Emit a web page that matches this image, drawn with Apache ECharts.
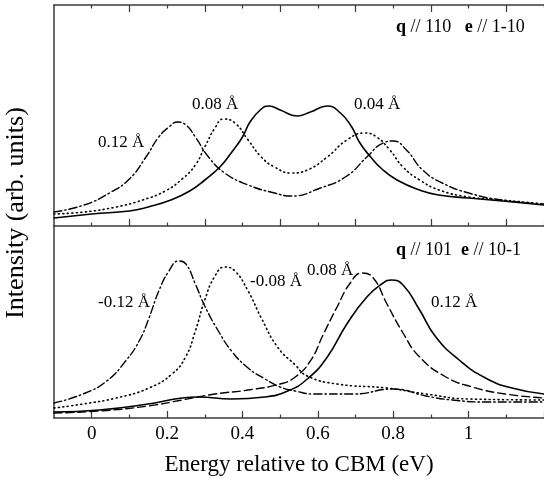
<!DOCTYPE html>
<html><head><meta charset="utf-8">
<script src="https://cdn.jsdelivr.net/npm/echarts@6/dist/echarts.min.js"></script>
<style>html,body{margin:0;padding:0;background:#fff}#c{width:544px;height:479px}</style>
</head><body><div id="c"></div>
<script>
// ---------- data (x: energy in eV, y: intensity in arb. units) ----------
// Top panel: q // 110, e // 1-10
const topSolidX = [-0.10, 0.00, 0.10, 0.15, 0.21, 0.26, 0.30, 0.34, 0.37, 0.40, 0.42, 0.45, 0.47, 0.50, 0.545, 0.58, 0.625, 0.66, 0.69, 0.71, 0.74, 0.77, 0.81, 0.87, 0.92, 1.00, 1.09, 1.20];
const topSolidY = [0.08, 0.12, 0.15, 0.19, 0.26, 0.35, 0.46, 0.59, 0.73, 0.89, 1.04, 1.17, 1.20, 1.16, 1.10, 1.14, 1.20, 1.13, 0.99, 0.84, 0.69, 0.57, 0.46, 0.36, 0.31, 0.28, 0.25, 0.21];
const topDotX = [-0.10, -0.02, 0.065, 0.135, 0.195, 0.24, 0.275, 0.30, 0.327, 0.35, 0.38, 0.415, 0.45, 0.485, 0.53, 0.572, 0.625, 0.677, 0.725, 0.756, 0.791, 0.826, 0.87, 0.922, 1.00, 1.088, 1.20];
const topDotY = [0.12, 0.14, 0.19, 0.26, 0.35, 0.47, 0.61, 0.79, 0.98, 1.07, 1.03, 0.86, 0.69, 0.59, 0.53, 0.56, 0.69, 0.86, 0.93, 0.89, 0.76, 0.59, 0.46, 0.36, 0.29, 0.26, 0.22];
const topDashDotX = [-0.10, -0.02, 0.047, 0.10, 0.144, 0.178, 0.205, 0.228, 0.25, 0.275, 0.31, 0.353, 0.415, 0.485, 0.53, 0.607, 0.677, 0.73, 0.773, 0.80, 0.835, 0.878, 0.93, 1.00, 1.088, 1.20];
const topDashDotY = [0.14, 0.21, 0.33, 0.47, 0.69, 0.89, 0.99, 1.04, 1.01, 0.89, 0.69, 0.53, 0.41, 0.33, 0.30, 0.38, 0.50, 0.69, 0.83, 0.85, 0.76, 0.56, 0.43, 0.33, 0.26, 0.22];

// Bottom panel: q // 101, e // 10-1
const botDashDotX = [-0.10, -0.023, 0.04, 0.09, 0.126, 0.152, 0.178, 0.205, 0.231, 0.25, 0.275, 0.30, 0.336, 0.371, 0.415, 0.46, 0.50, 0.54, 0.59, 0.695, 0.80, 0.887, 0.957, 1.045, 1.20];
const botDashDotY = [0.15, 0.24, 0.37, 0.57, 0.77, 1.00, 1.27, 1.47, 1.57, 1.54, 1.34, 1.12, 0.87, 0.67, 0.50, 0.39, 0.31, 0.27, 0.24, 0.24, 0.29, 0.22, 0.18, 0.16, 0.16];
const botDotX = [-0.10, -0.023, 0.065, 0.152, 0.213, 0.249, 0.275, 0.30, 0.327, 0.353, 0.38, 0.415, 0.45, 0.493, 0.54, 0.572, 0.651, 0.782, 0.887, 1.00, 1.20];
const botDotY = [0.10, 0.14, 0.20, 0.30, 0.44, 0.61, 0.87, 1.18, 1.42, 1.51, 1.47, 1.27, 1.00, 0.71, 0.53, 0.42, 0.34, 0.30, 0.24, 0.19, 0.18];
const botDashX = [-0.10, 0.02, 0.15, 0.24, 0.327, 0.415, 0.50, 0.54, 0.58, 0.615, 0.651, 0.686, 0.717, 0.747, 0.782, 0.826, 0.87, 0.94, 1.01, 1.097, 1.20];
const botDashY = [0.05, 0.07, 0.12, 0.18, 0.24, 0.28, 0.34, 0.41, 0.57, 0.84, 1.11, 1.35, 1.45, 1.40, 1.15, 0.85, 0.61, 0.41, 0.31, 0.24, 0.20];
const botSolidX = [-0.10, 0.02, 0.15, 0.24, 0.283, 0.371, 0.459, 0.52, 0.572, 0.625, 0.677, 0.73, 0.773, 0.795, 0.826, 0.87, 0.913, 0.975, 1.045, 1.115, 1.20];
const botSolidY = [0.06, 0.08, 0.14, 0.20, 0.21, 0.19, 0.21, 0.27, 0.39, 0.61, 0.94, 1.21, 1.35, 1.38, 1.33, 1.08, 0.81, 0.58, 0.40, 0.30, 0.24];

// ticks
const topMajorTicks = [0.1, 0.3, 0.5, 0.7, 0.9, 1.1];
const topMinorTicks = [0, 0.2, 0.4, 0.6, 0.8, 1.0, 1.2];
const botMajorTicks = [0, 0.2, 0.4, 0.6, 0.8, 1.0, 1.2];
const botMinorTicks = [0.1, 0.3, 0.5, 0.7, 0.9, 1.1];
const xTickLabels = [0, 0.2, 0.4, 0.6, 0.8, 1];

// ---------- chart ----------
const FONT = '"Liberation Serif", "Times New Roman", serif';
const AX = '#3a3a3a';
const zip = (xs, ys) => xs.map((x, i) => [x, ys[i]]);

function xAxis(grid, pos, ticks, len, showLine, extra) {
  return Object.assign({
    type: 'value', gridIndex: grid, position: pos, min: -0.1, max: 1.2,
    axisLine: { show: showLine, onZero: false, lineStyle: { color: AX, width: 1.5 } },
    axisTick: { show: true, inside: true, length: len, customValues: ticks, lineStyle: { color: AX, width: 1.2 } },
    axisLabel: { show: false },
    splitLine: { show: false }
  }, extra || {});
}
function yAxis(grid, max) {
  return {
    type: 'value', gridIndex: grid, min: 0, max: max, position: 'left',
    axisLine: { show: true, onZero: false, lineStyle: { color: AX, width: 1.5 } },
    axisTick: { show: false }, axisLabel: { show: false }, splitLine: { show: false }
  };
}
function line(name, xi, yi, data, type, w) {
  return {
    name: name, type: 'line', xAxisIndex: xi, yAxisIndex: yi, data: data,
    showSymbol: false, symbol: 'none', smooth: 0.5, silent: true,
    lineStyle: { color: '#000', width: w || 1.5, type: type, cap: 'round' }
  };
}
const DOT = [1, 3.5], DASHDOT = [8, 3, 1.5, 3], DASH = [8, 4];

const option = {
  animation: false,
  backgroundColor: '#fff',
  grid: [
    { left: 54, top: 5, width: 495, height: 221 },
    { left: 54, top: 226, width: 495, height: 192 }
  ],
  xAxis: [
    xAxis(0, 'bottom', topMajorTicks, 7, true),
    xAxis(0, 'bottom', topMinorTicks, 3.5, false),
    xAxis(0, 'top', topMajorTicks, 7, true),
    xAxis(0, 'top', topMinorTicks, 3.5, false),
    xAxis(1, 'bottom', botMajorTicks, 7, true, {
      axisLabel: { show: true, customValues: xTickLabels, margin: 7, color: '#000', fontFamily: FONT, fontSize: 19,
        formatter: v => String(v) },
      name: 'Energy relative to CBM (eV)', nameLocation: 'middle', nameGap: 35,
      nameTextStyle: { color: '#000', fontFamily: FONT, fontSize: 23 }
    }),
    xAxis(1, 'bottom', botMinorTicks, 3.5, false)
  ],
  yAxis: [yAxis(0, 2.21), yAxis(1, 1.92)],
  series: [
    line('0.04 Å', 0, 0, zip(topSolidX, topSolidY), 'solid', 1.6),
    line('0.08 Å', 0, 0, zip(topDotX, topDotY), DOT, 1.6),
    line('0.12 Å', 0, 0, zip(topDashDotX, topDashDotY), DASHDOT, 1.4),
    line('-0.12 Å', 4, 1, zip(botDashDotX, botDashDotY), DASHDOT, 1.4),
    line('-0.08 Å', 4, 1, zip(botDotX, botDotY), DOT, 1.6),
    line('0.08 Å', 4, 1, zip(botDashX, botDashY), DASH, 1.4),
    line('0.12 Å', 4, 1, zip(botSolidX, botSolidY), 'solid', 1.6)
  ],
  graphic: [
    { type: 'text', x: 16, y: 213, rotation: Math.PI / 2,
      style: { text: 'Intensity (arb. units)', fontFamily: FONT, fontSize: 26, fill: '#000',
        align: 'center', verticalAlign: 'middle', textAlign: 'center', textVerticalAlign: 'middle' } },
    { type: 'text', x: 396, y: 27,
      style: { text: '{b|q} // 110   {b|e} // 1-10', fontFamily: FONT, fontSize: 18, fill: '#000',
        align: 'left', verticalAlign: 'middle', textAlign: 'left', textVerticalAlign: 'middle',
        rich: { b: { fontFamily: FONT, fontSize: 18, fontWeight: 'bold', fill: '#000' } } } },
    { type: 'text', x: 396, y: 250,
      style: { text: '{b|q} // 101  {b|e} // 10-1', fontFamily: FONT, fontSize: 18, fill: '#000',
        align: 'left', verticalAlign: 'middle', textAlign: 'left', textVerticalAlign: 'middle',
        rich: { b: { fontFamily: FONT, fontSize: 18, fontWeight: 'bold', fill: '#000' } } } }
  ].concat([
    ['0.12 Å', 98, 143], ['0.08 Å', 192, 105], ['0.04 Å', 354, 105],
    ['-0.12 Å', 98, 303], ['-0.08 Å', 250, 282], ['0.08 Å', 307, 271], ['0.12 Å', 431, 303]
  ].map(t => ({ type: 'text', x: t[1], y: t[2],
      style: { text: t[0], fontFamily: FONT, fontSize: 17, fill: '#000',
        align: 'left', verticalAlign: 'middle', textAlign: 'left', textVerticalAlign: 'middle' } })))
};
const chart = echarts.init(document.getElementById('c'), null, { renderer: 'canvas' });
chart.setOption(option);
</script></body></html>
